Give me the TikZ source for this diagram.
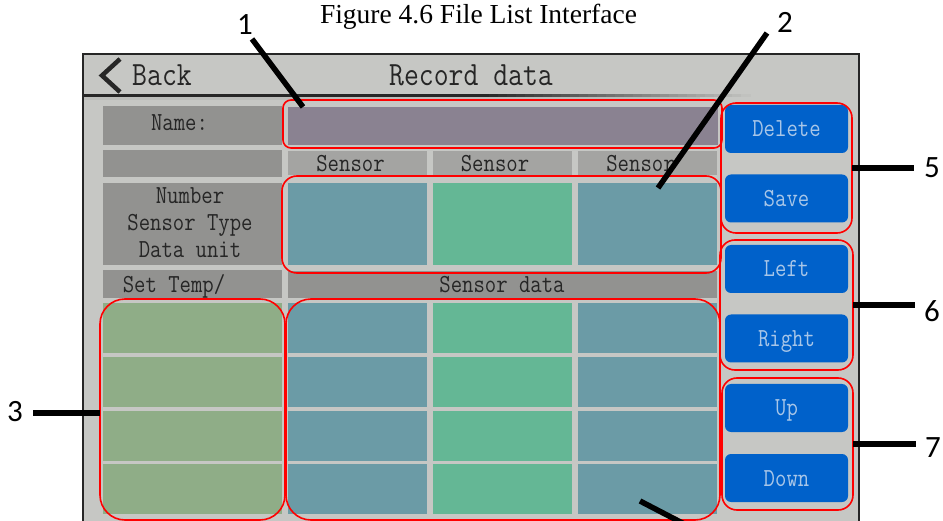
\documentclass[tikz,border=0pt]{standalone}
\usepackage{fontspec}
\setmainfont{Liberation Serif}
\newfontfamily\calloutfont{Carlito}
\newfontfamily\uifont[FakeStretch=0.85]{Latin Modern Mono}

\definecolor{screenbg}{HTML}{C6C7C4}
\definecolor{framedark}{HTML}{262626}
\definecolor{namefield}{HTML}{8A8291}
\definecolor{tealcell}{HTML}{6B9BA6}
\definecolor{greencell}{HTML}{64B795}
\definecolor{tempcell}{HTML}{8FAD87}
\definecolor{labelgrey}{HTML}{929290}
\definecolor{headgrey}{HTML}{A4A4A2}
\definecolor{btnblue}{HTML}{0061CA}
\definecolor{btntext}{HTML}{A8C6E8}
\definecolor{uidark}{HTML}{262626}

\begin{document}
\begin{tikzpicture}[x=1pt,y=-1pt,
  redbox/.style={draw=red, line width=1.6pt, inner sep=0pt, outer sep=0pt},
  btn/.style={fill=btnblue, rounded corners=6pt, inner sep=0pt,
    minimum width=123pt, minimum height=48pt, text=btntext,
    font=\uifont\fontsize{26}{26}\selectfont, text height=16pt, text depth=0pt},
  uitext/.style={font=\uifont\fontsize{26}{26}\selectfont, text=uidark,
    inner sep=0pt, anchor=base},
  bigtext/.style={font=\uifont\fontsize{34}{34}\selectfont, text=uidark,
    inner sep=0pt, anchor=base},
  callout/.style={line width=5.5pt, draw=black},
  calloutnum/.style={font=\calloutfont\fontsize{31}{31}\selectfont, inner sep=0pt},
]
\useasboundingbox (0,0) rectangle (943,521);
\clip (0,0) rectangle (943,521);

% caption
\node[font=\fontsize{27.5}{27.5}\selectfont, anchor=base, inner sep=0pt] (caption)
  at (478.5,24) {Figure 4.6 File List Interface};

% screen frame
\draw[fill=screenbg, draw=framedark, line width=2.5pt] (83,54) rectangle (859,560);

% title bar: chevron, texts and a separator that fades out to the right
\draw[line width=4.5pt, framedark, line join=miter] (120,59) -- (102,75.5) -- (120,92);
\node[bigtext] (back) at (162,86) {Back};
\node[bigtext] (title) at (471,86) {Record data};
\fill[framedark] (84,94) rectangle (480,97.5);
\foreach \k in {0,...,29} {
  \pgfmathsetmacro\mix{100-\k*100/30}
  \fill[framedark!\mix!screenbg] ({480+\k*9},94) rectangle ({489.5+\k*9},97.5);
}
\fill[screenbg!85!black, opacity=0.35] (84,97.5) rectangle (700,100);

% table cells
\fill[labelgrey] (103,106) rectangle (282,145);
\fill[namefield] (288,107) rectangle (718,145);
\fill[labelgrey] (103,150) rectangle (282,177);
\fill[headgrey] (288,151) rectangle (427,175);
\fill[headgrey] (433,151) rectangle (572,175);
\fill[headgrey] (578,151) rectangle (717,175);
\fill[labelgrey] (103,183) rectangle (282,265);
\fill[tealcell] (288,183) rectangle (427,265);
\fill[greencell] (433,183) rectangle (572,265);
\fill[tealcell] (578,183) rectangle (717,265);
\fill[labelgrey] (103,270) rectangle (282,298);
\fill[labelgrey] (288,271) rectangle (717,298);
\foreach \ya/\yb in {303/353, 357/407, 411/461, 464/514} {
  \fill[tempcell] (103,\ya) rectangle (282,\yb);
  \fill[tealcell] (288,\ya) rectangle (427,\yb);
  \fill[greencell] (433,\ya) rectangle (572,\yb);
  \fill[tealcell] (578,\ya) rectangle (717,\yb);
}

% table texts
\node[uitext] (lname) at (179.5,131) {Name:};
\node[uitext] (s1) at (350.5,172) {Sensor};
\node[uitext] (s2) at (495,172) {Sensor};
\node[uitext] (s3) at (640.5,172) {Sensor};
\node[uitext] (lnum) at (190,204) {Number};
\node[uitext] (ltype) at (190,231) {Sensor Type};
\node[uitext] (lunit) at (190,258) {Data unit};
\node[uitext] (ltemp) at (174,293) {Set Temp/};
\node[uitext] (ldata) at (502,293) {Sensor data};

% buttons
\node[btn] (bdel) at (786.5,129) {Delete};
\node[btn] (bsave) at (786.5,198.5) {Save};
\node[btn] (bleft) at (786.5,269) {Left};
\node[btn] (bright) at (786.5,338.5) {Right};
\node[btn] (bup) at (786.5,408) {Up};
\node[btn] (bdown) at (786.5,478) {Down};

% highlighted regions
\node[redbox, rounded corners=8pt, minimum width=439pt, minimum height=48pt] (box1) at (502.5,124) {};
\node[redbox, rounded corners=15pt, minimum width=439pt, minimum height=97pt] (box2) at (501.5,224.5) {};
\node[redbox, rounded corners=25pt, minimum width=185pt, minimum height=221pt] (box3) at (192.5,409.5) {};
\node[redbox, rounded corners=25pt, minimum width=434pt, minimum height=221pt] (box4) at (503,409.5) {};
\node[redbox, rounded corners=15pt, minimum width=131pt, minimum height=130pt] (box5) at (786.5,168) {};
\node[redbox, rounded corners=15pt, minimum width=133pt, minimum height=130pt] (box6) at (786.5,305) {};
\node[redbox, rounded corners=15pt, minimum width=131pt, minimum height=132pt] (box7) at (787.5,444) {};

% callouts
\node[calloutnum] (n1) at (245,25) {1};
\node[calloutnum] (n2) at (785,22) {2};
\node[calloutnum] (n3) at (15,412) {3};
\node[calloutnum] (n5) at (932,168) {5};
\node[calloutnum] (n6) at (932,311) {6};
\node[calloutnum] (n7) at (933,448) {7};

\coordinate (c1) at (252,39);
\coordinate (t1) at (303,107);
\coordinate (c2) at (767,33);
\coordinate (t2) at (658,188);
\coordinate (c3) at (33,413);
\coordinate (t5) at (914,168);
\coordinate (t6) at (915,305);
\coordinate (t7) at (916,444);
\coordinate (c4) at (640,501);
\coordinate (t4) at (692,528);

\draw[callout] (c1) -- (t1);
\draw[callout] (c2) -- (t2);
\draw[callout] (c3) -- (c3 -| box3.west);
\draw[callout] (box5.east) -- (t5);
\draw[callout] (box6.east) -- (t6);
\draw[callout] (box7.east) -- (t7);
\draw[callout] (c4) -- (t4);
\end{tikzpicture}
\end{document}
